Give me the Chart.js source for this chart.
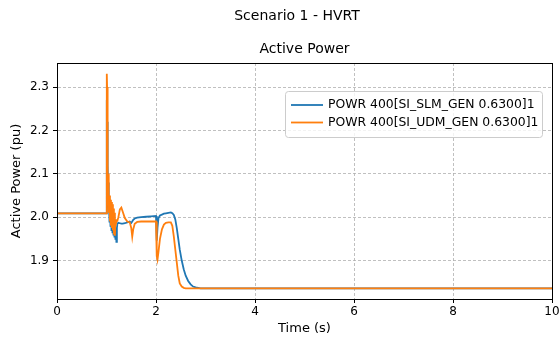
<!DOCTYPE html>
<html>
<head>
<meta charset="utf-8">
<script src="https://cdn.jsdelivr.net/npm/chart.js@4.4.1/dist/chart.umd.min.js"></script>
<style>
  html, body { margin: 0; padding: 0; background: #fff; }
  #wrap { width: 559px; height: 337px; }
</style>
</head>
<body>
<div id="wrap"><canvas id="chart" width="559" height="337"></canvas></div>
<script>
const suptitle = "Scenario 1 - HVRT";
const title = "Active Power";
const xLabel = "Time (s)";
const yLabel = "Active Power (pu)";
const seriesNames = ["POWR 400[SI_SLM_GEN 0.6300]1", "POWR 400[SI_UDM_GEN 0.6300]1"];
const seriesColors = ["#1f77b4", "#ff7f0e"];

const xTicks = [0, 2, 4, 6, 8, 10];
const yTicks = [1.9, 2.0, 2.1, 2.2, 2.3];

const time = [0, 1.0, 1.004, 1.008, 1.012, 1.016, 1.02, 1.025, 1.03, 1.035, 1.04, 1.045, 1.05,
  1.06, 1.07, 1.08, 1.09, 1.10, 1.11, 1.12, 1.13, 1.14, 1.15, 1.16, 1.17, 1.18, 1.19, 1.20,
  1.21, 1.22, 1.24, 1.27, 1.30, 1.33, 1.37, 1.42, 1.47, 1.50, 1.52, 1.54, 1.57, 1.62, 1.7,
  1.8, 1.9, 2.0, 2.01, 2.02, 2.03, 2.05, 2.08, 2.12, 2.16, 2.2, 2.25, 2.3, 2.33, 2.36, 2.39,
  2.42, 2.45, 2.48, 2.52, 2.56, 2.6, 2.65, 2.7, 2.75, 2.8, 2.9, 3.0, 10];

const slmPower = [2.009, 2.009, 2.12, 2.27, 2.22, 2.16, 2.17, 2.10, 2.12, 2.05, 2.08, 2.02, 2.05,
  1.99, 2.04, 1.98, 2.02, 1.97, 2.01, 1.965, 2.0, 1.96, 1.995, 1.955, 1.99, 1.95, 1.975, 1.943,
  1.975, 1.985, 1.987, 1.986, 1.985, 1.985, 1.986, 1.988, 1.99, 1.987, 1.99, 1.994, 1.997, 1.999, 2.0,
  2.001, 2.002, 2.003, 1.99, 1.946, 1.975, 1.998, 2.004, 2.006, 2.008, 2.009, 2.010, 2.011, 2.009, 2.005, 1.995,
  1.975, 1.95, 1.925, 1.90, 1.88, 1.865, 1.853, 1.845, 1.84, 1.838, 1.836, 1.836, 1.836];

const udmPower = [2.009, 2.009, 2.15, 2.331, 2.30, 2.20, 2.12, 2.15, 2.06, 2.10, 2.03, 2.07, 2.01,
  2.05, 1.99, 2.04, 1.98, 2.035, 1.975, 2.03, 1.97, 2.02, 1.96, 2.01, 1.957, 1.995, 1.985, 1.99,
  1.99, 1.992, 2.0, 2.018, 2.022, 2.012, 1.998, 1.99, 1.988, 1.975, 1.955, 1.972, 1.985, 1.989, 1.99,
  1.99, 1.99, 1.99, 1.96, 1.91, 1.902, 1.92, 1.95, 1.972, 1.983, 1.987, 1.988, 1.988, 1.98, 1.955, 1.925,
  1.895, 1.865, 1.847, 1.84, 1.837, 1.836, 1.836, 1.836, 1.836, 1.836, 1.836, 1.836, 1.836];

const FONT = "DejaVu Sans";

const toPoints = (ys) => time.map((t, i) => ({ x: t, y: ys[i] }));

const decor = {
  id: "decor",
  afterDraw(chart) {
    const ctx = chart.ctx;
    const a = chart.chartArea;
    ctx.save();
    // axes frame
    ctx.strokeStyle = "#000";
    ctx.lineWidth = 1;
    ctx.strokeRect(Math.round(a.left) + 0.5, Math.round(a.top) + 0.5,
      Math.round(a.right - a.left), Math.round(a.bottom - a.top));

    // titles
    ctx.fillStyle = "#000";
    ctx.textAlign = "center";
    ctx.textBaseline = "middle";
    ctx.font = "14px '" + FONT + "'";
    ctx.fillText(suptitle, 297, 16);
    ctx.fillText(title, (a.left + a.right) / 2, 49);

    // legend
    const bx = 285, by = 91, bw = 257, bh = 46, r = 3;
    ctx.fillStyle = "rgba(255,255,255,0.8)";
    ctx.strokeStyle = "#cccccc";
    ctx.lineWidth = 1;
    ctx.beginPath();
    ctx.roundRect(bx + 0.5, by + 0.5, bw, bh, r);
    ctx.fill();
    ctx.stroke();
    ctx.font = "12.4px '" + FONT + "'";
    ctx.textAlign = "left";
    seriesNames.forEach((name, i) => {
      const y = 105 + i * 17.5;
      ctx.strokeStyle = seriesColors[i];
      ctx.lineWidth = 1.8;
      ctx.beginPath();
      ctx.moveTo(291, y);
      ctx.lineTo(323, y);
      ctx.stroke();
      ctx.fillStyle = "#000";
      ctx.fillText(name, 328, y);
    });
    ctx.restore();
  },
};

const gridOpts = {
  color: "#b0b0b0",
  lineWidth: 0.8,
  tickColor: "#000",
  tickLength: 4,
  tickWidth: 1,
  tickBorderDash: [],
};

new Chart(document.getElementById("chart").getContext("2d"), {
  type: "line",
  data: {
    datasets: [
      {
        label: seriesNames[0],
        data: toPoints(slmPower),
        borderColor: seriesColors[0],
        borderWidth: 1.8,
        pointRadius: 0,
        tension: 0,
        order: 1,
      },
      {
        label: seriesNames[1],
        data: toPoints(udmPower),
        borderColor: seriesColors[1],
        borderWidth: 1.8,
        pointRadius: 0,
        tension: 0,
        order: 0,
      },
    ],
  },
  options: {
    responsive: false,
    animation: false,
    parsing: false,
    layout: { padding: { left: 0, right: 7, top: 63, bottom: 0 } },
    plugins: {
      legend: { display: false },
      tooltip: { enabled: false },
    },
    scales: {
      x: {
        type: "linear",
        min: 0,
        max: 10,
        afterBuildTicks: (s) => { s.ticks = xTicks.map((v) => ({ value: v })); },
        afterFit: (s) => { s.height = 38; s.paddingLeft = 0; s.paddingRight = 0; },
        ticks: { color: "#000", font: { family: FONT, size: 12 }, padding: 2, maxRotation: 0 },
        grid: gridOpts,
        border: { color: "#000", width: 1, dash: [3, 2] },
        title: { display: true, text: xLabel, color: "#000", font: { family: FONT, size: 13 }, padding: { top: 0, bottom: 1 } },
      },
      y: {
        type: "linear",
        min: 1.8113,
        max: 2.3556,
        afterBuildTicks: (s) => { s.ticks = yTicks.map((v) => ({ value: v })); },
        afterFit: (s) => { s.width = 57; s.paddingTop = 0; s.paddingBottom = 0; },
        ticks: { color: "#000", font: { family: FONT, size: 12 }, padding: 4, callback: (v) => v.toFixed(1) },
        grid: gridOpts,
        border: { color: "#000", width: 1, dash: [3, 2] },
        title: { display: true, text: yLabel, color: "#000", font: { family: FONT, size: 13 }, padding: { top: 9, bottom: 0 } },
      },
    },
  },
  plugins: [decor],
});
</script>
</body>
</html>
